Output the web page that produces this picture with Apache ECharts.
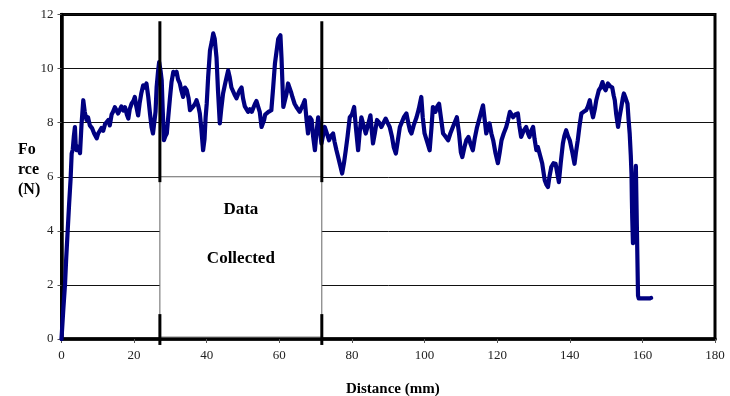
<!DOCTYPE html>
<html>
<head>
<meta charset="utf-8">
<script src="https://cdn.jsdelivr.net/npm/echarts@6/dist/echarts.min.js"></script>
<style>html,body{margin:0;padding:0;background:#fff}#c{width:730px;height:396px}</style>
</head>
<body>
<div id="c"></div>
<script>
// Distance (mm)
const distance = [0,0.5,0.96,1.3,1.7,2.1,2.5,2.8,3.1,3.4,3.7,3.9,4.2,4.6,5.1,5.5,6.0,6.4,6.9,7.3,7.8,8.4,9.0,9.7,10.1,10.6,11.0,11.5,12.0,12.4,12.9,13.3,13.8,14.2,14.7,15.1,15.6,16.0,16.5,17.0,17.5,18.0,18.4,18.8,19.3,19.8,20.2,20.6,21.1,21.5,22.0,22.5,23.0,23.4,23.9,24.4,24.8,25.2,25.5,25.9,26.2,26.6,26.9,27.3,27.6,27.9,28.2,28.6,29.0,29.4,29.9,30.3,30.8,31.2,31.7,32.1,32.6,33.0,33.5,34.0,34.5,35.0,35.4,35.8,36.3,36.8,37.2,37.7,38.1,38.5,39.0,39.4,39.7,40.0,40.4,40.9,41.4,41.8,42.2,42.7,43.1,43.6,44.0,44.5,45.0,45.5,45.9,46.3,46.8,47.3,47.8,48.2,48.7,49.1,49.6,50.0,50.5,51.0,51.4,51.9,52.4,52.8,53.3,53.7,54.2,54.6,55.1,55.4,55.8,56.1,56.5,57.0,57.4,57.8,58.3,58.8,59.3,59.7,60.3,60.6,61.1,61.5,62.0,62.4,62.9,63.3,63.6,64.2,64.7,65.2,65.6,66.1,66.6,67.0,67.5,67.9,68.4,68.9,69.3,69.8,70.2,70.7,71.1,71.6,72.0,72.5,73.1,73.7,74.2,74.8,75.2,75.7,76.2,76.7,77.3,77.8,78.3,78.8,79.4,80.0,80.6,81.1,81.7,82.1,82.6,83.2,83.8,84.4,85.1,85.4,85.8,86.3,86.9,87.5,88.1,88.7,89.3,89.8,90.4,91.0,91.5,92.1,92.6,93.2,93.7,94.3,95.0,95.5,96.0,96.4,97.0,97.8,98.4,99.1,99.5,100.0,100.7,101.4,101.9,102.3,103.0,103.5,104.0,104.5,105.1,105.7,106.5,107.1,107.8,108.3,108.9,109.5,110.0,110.4,111.0,111.5,112.1,112.7,113.3,113.8,114.4,115.2,115.7,116.1,116.6,117.0,117.5,117.9,118.4,118.9,119.5,120.2,120.7,121.2,121.8,122.5,123.0,123.5,124.0,124.4,125.0,125.7,126.1,126.6,127.3,128.0,128.5,128.9,129.4,129.9,130.3,130.8,131.2,131.7,132.4,133.1,133.6,134.0,134.4,134.9,135.5,136.1,136.6,137.0,137.5,138.1,138.5,139.0,139.5,140.0,140.7,141.3,141.7,142.2,142.7,143.2,143.8,144.5,145.0,145.5,145.9,146.4,146.9,147.3,148.0,148.5,149.0,149.4,149.9,150.5,151.1,151.7,152.1,152.4,152.8,153.3,153.7,154.2,154.6,154.9,155.4,155.9,156.2,156.5,156.8,157.0,157.1,157.2,157.4,157.6,158.0,158.2,158.5,158.8,159.0,159.5,160.0,160.5,161.0,161.5,162.0,162.4];
// Force (N)
const force = [0,1.1,2.0,3.0,4.0,5.0,5.9,6.86,7.0,7.5,7.84,7.2,6.98,7.1,6.87,7.9,8.83,8.4,8.1,8.2,7.9,7.8,7.6,7.42,7.6,7.65,7.8,7.7,7.95,7.97,8.1,7.9,8.3,8.4,8.57,8.5,8.34,8.4,8.6,8.45,8.57,8.3,8.15,8.5,8.7,8.8,8.95,8.6,8.27,8.7,9.1,9.38,9.3,9.45,8.95,8.3,7.84,7.6,7.53,8.4,9.31,9.9,10.24,9.9,9.57,8.4,7.35,7.5,7.6,8.2,8.95,9.5,9.88,9.8,9.88,9.6,9.45,9.2,8.95,9.3,9.2,8.9,8.46,8.4,8.6,8.7,8.83,8.6,8.34,7.8,6.98,7.4,8.2,8.7,9.7,10.67,11.0,11.3,11.1,10.4,9.2,7.97,8.5,9.08,9.4,9.7,9.93,9.7,9.3,9.25,9.0,8.9,9.08,9.2,9.3,8.9,8.6,8.6,8.4,8.5,8.4,8.46,8.7,8.8,8.85,8.4,7.84,7.79,8.1,8.3,8.34,8.4,8.46,8.46,9.3,10.2,10.7,11.1,11.23,10.4,8.58,8.6,9.08,9.45,9.45,9.1,8.95,8.7,8.58,8.6,8.4,8.34,8.7,8.83,8.1,7.6,8.2,8.1,7.5,6.98,7.6,8.2,7.8,7.23,7.5,7.84,7.6,7.35,7.5,7.6,7.3,7.0,6.73,6.45,6.12,6.5,6.98,7.5,8.2,8.3,8.58,7.8,6.98,7.6,8.2,7.9,7.6,7.9,8.27,7.8,7.23,7.6,8.1,8.0,7.84,8.0,8.15,8.0,7.84,7.5,7.1,6.86,7.3,7.84,8.0,8.2,8.34,8.0,7.7,7.6,7.9,8.2,8.5,8.95,8.2,7.6,7.3,6.98,7.8,8.58,8.4,8.6,8.7,8.2,7.6,7.5,7.35,7.6,7.84,8.0,8.2,7.6,6.9,6.73,7.1,7.35,7.47,7.2,6.98,7.4,7.8,8.2,8.45,8.64,8.7,7.6,7.84,7.97,7.6,7.35,6.9,6.5,6.9,7.35,7.6,7.84,8.1,8.4,8.3,8.2,8.3,8.34,7.9,7.47,7.7,7.84,7.6,7.47,7.7,7.84,7.4,6.98,7.1,7.1,6.5,5.87,5.7,5.62,6.0,6.36,6.5,6.48,6.1,5.8,6.5,7.23,7.5,7.72,7.5,7.35,6.9,6.48,6.9,7.35,7.9,8.34,8.4,8.46,8.6,8.83,8.5,8.2,8.5,8.83,9.2,9.3,9.5,9.3,9.2,9.45,9.35,9.3,9.0,8.83,8.3,7.84,8.2,8.58,8.9,9.08,8.9,8.7,8.1,7.6,6.8,6.1,5.2,4.5,3.54,3.8,5.5,6.4,4.0,1.6,1.5,1.55,1.5,1.55,1.5,1.55,1.5,1.52];

const xTicks = [0,20,40,60,80,100,120,140,160,180];
const yTicks = [0,2,4,6,8,10,12];
// Data-collection window markers
const markerX = [27.1, 71.7];
const upperSegment = [5.8, 11.75];
const lowerSegment = [-0.22, 0.92];
const windowForce = [0.07, 6];

const serif = '"Liberation Serif","Times New Roman",serif';
const chart = echarts.init(document.getElementById('c'));

const markerSeries = [];
markerX.forEach(x => {
  [upperSegment, lowerSegment].forEach(seg => {
    markerSeries.push({
      type: 'line', z: 4, clip: false, silent: true, symbol: 'none',
      lineStyle: { color: '#000', width: 3 },
      data: [[x, seg[0]], [x, seg[1]]]
    });
  });
});

chart.setOption({
  animation: false,
  title: [
    { text: 'Fo\nrce\n(N)', left: 13, top: 135,
      textStyle: { fontFamily: serif, fontWeight: 'bold', fontSize: 16, lineHeight: 20, color: '#000' } },
    { text: 'Distance (mm)', left: 341, top: 377,
      textStyle: { fontFamily: serif, fontWeight: 'bold', fontSize: 15, color: '#000' } }
  ],
  grid: { left: 61.5, right: 15, top: 14.5, bottom: 57, show: true, borderColor: '#000', borderWidth: 3, backgroundColor: 'transparent' },
  xAxis: {
    type: 'value', min: xTicks[0], max: xTicks[xTicks.length - 1], interval: 20,
    axisLine: { lineStyle: { color: '#000', width: 3.5 } },
    axisTick: { show: true, length: 4, lineStyle: { color: '#555', width: 1 } },
    axisLabel: { fontFamily: serif, fontSize: 13, color: '#222', margin: 10 },
    splitLine: { show: false }
  },
  yAxis: {
    type: 'value', min: yTicks[0], max: yTicks[yTicks.length - 1], interval: 2,
    axisLine: { show: true, lineStyle: { color: '#000', width: 3.5 } },
    axisTick: { show: true, length: 4, lineStyle: { color: '#555', width: 1 } },
    axisLabel: { fontFamily: serif, fontSize: 13, color: '#222', margin: 8 },
    splitLine: { show: true, lineStyle: { color: '#111', width: 1 } }
  },
  series: [
    {
      type: 'line', z: 2, silent: true, symbol: 'none', data: [],
      markArea: {
        silent: true,
        itemStyle: { color: '#fff', borderColor: '#666', borderWidth: 1 },
        label: { show: true, position: 'insideTop', distance: 8.5, formatter: 'Data\nCollected',
          fontFamily: serif, fontWeight: 'bold', fontSize: 17, lineHeight: 49, color: '#000' },
        data: [[{ xAxis: markerX[0], yAxis: windowForce[0] }, { xAxis: markerX[1], yAxis: windowForce[1] }]]
      }
    },
    {
      type: 'line', z: 3, symbol: 'none', showSymbol: false,
      lineStyle: { color: '#000080', width: 4.2, join: 'round', cap: 'round' },
      data: distance.map((d, i) => [d, force[i]])
    },
    ...markerSeries
  ]
});
</script>
</body>
</html>
